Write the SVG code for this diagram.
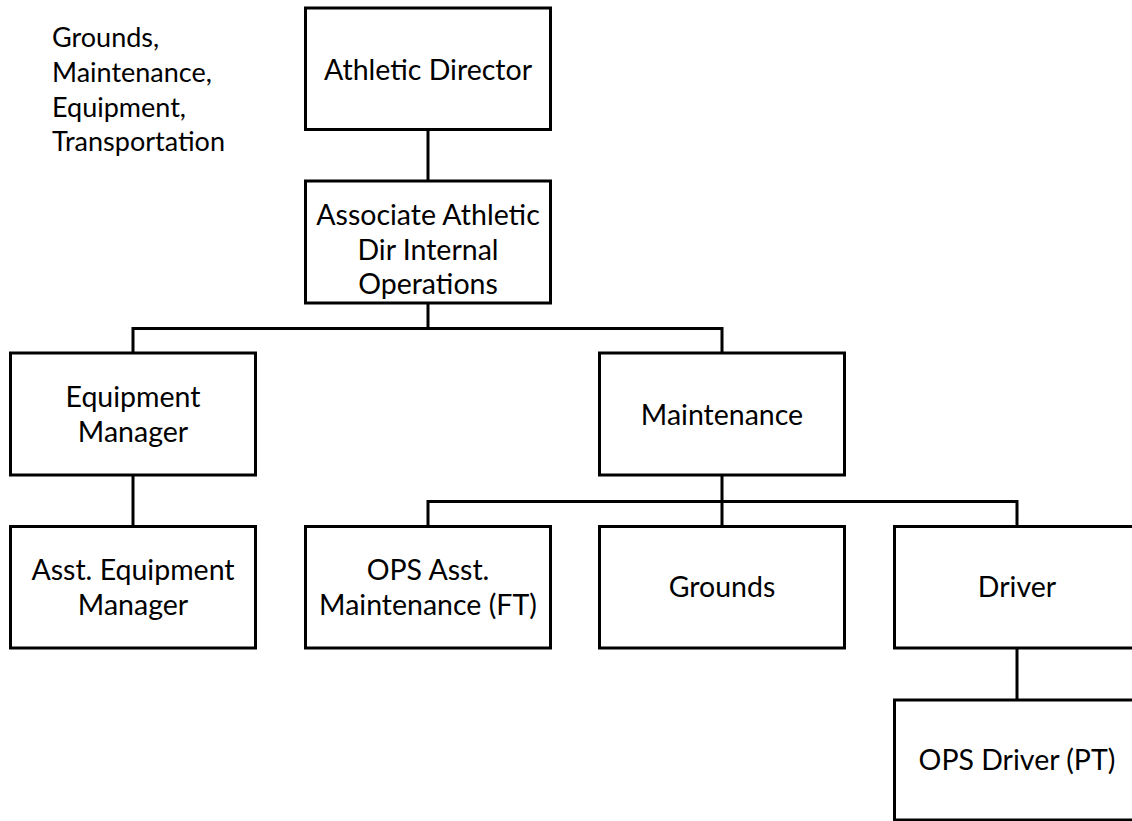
<svg xmlns="http://www.w3.org/2000/svg" width="1132" height="821" viewBox="0 0 1132 821">
  <style>
    .box { fill: #ffffff; stroke: #000000; stroke-width: 3; }
    .wire { fill: none; stroke: #000000; stroke-width: 3; }
    text { font-family: "Lato", "Open Sans", "Liberation Sans", sans-serif; font-size: 28.5px; fill: #000000; }
    .note { font-size: 27px; }
    .c { text-anchor: middle; }
  </style>
  <rect width="1132" height="821" fill="#ffffff"/>

  <!-- scope note -->
  <g id="note" class="note">
    <text class="note" x="52" y="47">Grounds,</text>
    <text class="note" x="52" y="82">Maintenance,</text>
    <text class="note" x="52" y="117">Equipment,</text>
    <text class="note" x="52" y="151">Transportation</text>
  </g>

  <!-- reporting lines -->
  <g id="connectors">
    <path class="wire" d="M428 129.5 V181"/>
    <path class="wire" d="M428 303 V328.5 M133 353 V328.5 H722 V353"/>
    <path class="wire" d="M133 475 V526.5"/>
    <path class="wire" d="M722 475 V526.5 M428 526.5 V501.5 H1017 V526.5"/>
    <path class="wire" d="M1017 648 V700"/>
  </g>

  <g id="athletic-director">
    <rect class="box" x="305.5" y="8" width="245" height="121.5"/>
    <text class="c" x="428" y="80">Athletic Director</text>
  </g>

  <g id="associate-ad">
    <rect class="box" x="305.5" y="181" width="245" height="122"/>
    <text class="c" x="428" y="225">Associate Athletic</text>
    <text class="c" x="428" y="260">Dir Internal</text>
    <text class="c" x="428" y="294">Operations</text>
  </g>

  <g id="equipment-manager">
    <rect class="box" x="10.5" y="353" width="245" height="122"/>
    <text class="c" x="133" y="407">Equipment</text>
    <text class="c" x="133" y="442">Manager</text>
  </g>

  <g id="maintenance">
    <rect class="box" x="599.5" y="353" width="245" height="122"/>
    <text class="c" x="722" y="425">Maintenance</text>
  </g>

  <g id="asst-equipment-manager">
    <rect class="box" x="10.5" y="526.5" width="245" height="121.5"/>
    <text class="c" x="133" y="580">Asst. Equipment</text>
    <text class="c" x="133" y="615">Manager</text>
  </g>

  <g id="ops-asst-maintenance">
    <rect class="box" x="305.5" y="526.5" width="245" height="121.5"/>
    <text class="c" x="428" y="580">OPS Asst.</text>
    <text class="c" x="428" y="615">Maintenance (FT)</text>
  </g>

  <g id="grounds">
    <rect class="box" x="599.5" y="526.5" width="245" height="121.5"/>
    <text class="c" x="722" y="597">Grounds</text>
  </g>

  <g id="driver">
    <rect class="box" x="894.5" y="526.5" width="245" height="121.5"/>
    <text class="c" x="1017" y="597">Driver</text>
  </g>

  <g id="ops-driver">
    <rect class="box" x="894.5" y="700" width="245" height="120"/>
    <text class="c" x="1017" y="770">OPS Driver (PT)</text>
  </g>
</svg>
